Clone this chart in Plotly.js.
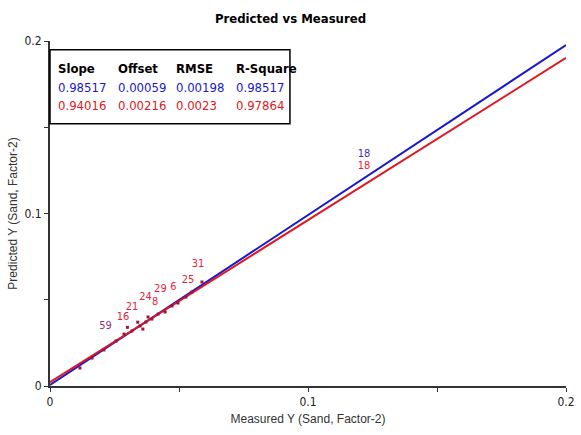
<!DOCTYPE html>
<html><head><meta charset="utf-8">
<script src="https://cdn.plot.ly/plotly-3.0.1.min.js"></script>
<style>html,body{margin:0;padding:0;background:#fff}#c{width:581px;height:435px}</style>
</head><body><div id="c"></div>
<script>
// Regression statistics (Calibration = blue, Validation = red)
const statHeaders = ["Slope", "Offset", "RMSE", "R-Square"];
const calStats = ["0.98517", "0.00059", "0.00198", "0.98517"];
const valStats = ["0.94016", "0.00216", "0.0023", "0.97864"];
const calSlope = 0.98517, calOffset = 0.00059;
const valSlope = 0.94016, valOffset = 0.00216;
const lineX = [0, 0.2];

// Sample labels (validation, red)
const valLabels = ["16","21","24","8","29","6","25","31","18"];
const valMeasured = [0.0283,0.0318,0.0370,0.0408,0.0428,0.0478,0.0535,0.0574,0.1217];
const valPredicted = [0.0398,0.0458,0.0516,0.0485,0.0562,0.0572,0.0614,0.0707,0.1272];

// Sample labels shared by both sets (purple)
const bothLabels = ["59"];
const bothMeasured = [0.0215];
const bothPredicted = [0.0345];

// Sample labels (calibration, blue)
const calLabels = ["18"];
const calMeasured = [0.1217];
const calPredicted = [0.1346];

// Sample points (markers)
const ptMeasured = [0.0116,0.0163,0.0209,0.0256,0.0287,0.0318,0.0349,0.0372,0.0395,0.0419,0.0446,0.0473,0.0496,0.0527,0.0550,0.0589,0.0300,0.0340,0.0360,0.0380];
const ptPredicted = [0.0104,0.0162,0.0209,0.0261,0.0301,0.0319,0.0348,0.0371,0.0388,0.0417,0.0429,0.0464,0.0481,0.0516,0.0545,0.0603,0.0340,0.0370,0.0330,0.0400];

const BLUE = "rgb(25,25,200)";
const RED = "rgb(220,25,35)";
const narrow = "DejaVu Sans Condensed, Liberation Sans Narrow, sans-serif";

const traces = [
  {x: lineX, y: lineX.map(v => calSlope*v + calOffset), mode: "lines", line: {color: BLUE, width: 2}, hoverinfo: "skip"},
  {x: lineX, y: lineX.map(v => valSlope*v + valOffset), mode: "lines", line: {color: RED, width: 2}, hoverinfo: "skip"},
  {x: ptMeasured, y: ptPredicted, mode: "markers", marker: {color: "rgb(160,20,60)", size: 3, symbol: "square"}},
  {x: calMeasured, y: calPredicted, mode: "text", text: calLabels, textfont: {color: "rgb(60,50,190)", size: 11, family: narrow}},
  {x: bothMeasured, y: bothPredicted, mode: "text", text: bothLabels, textfont: {color: "rgb(150,50,110)", size: 11, family: narrow}},
  {x: valMeasured, y: valPredicted, mode: "text", text: valLabels, textfont: {color: "rgb(230,30,60)", size: 11, family: narrow}}
];

const colX = [0.012, 0.128, 0.24, 0.356];
const annotations = [];
const rows = [[statHeaders, "#000", true], [calStats, BLUE, false], [valStats, RED, false]];
const rowY = [0.919, 0.864, 0.812];
rows.forEach((r, ri) => {
  r[0].forEach((t, ci) => {
    annotations.push({xref: "paper", yref: "paper", x: colX[ci], y: rowY[ri], text: r[2] ? "<b>" + t + "</b>" : t, showarrow: false,
      xanchor: "left", yanchor: "middle", font: {family: narrow, size: 13, color: r[1]}});
  });
});

const layout = {
  width: 581, height: 435,
  margin: {l: 50, r: 15, t: 41, b: 49},
  paper_bgcolor: "#fff", plot_bgcolor: "#fff",
  showlegend: false,
  title: {text: "<b>Predicted vs Measured</b>", x: 0.5, xref: "container", y: 0.958, yanchor: "middle",
    font: {family: narrow, size: 13, color: "#000"}},
  xaxis: {range: [0, 0.2], tickvals: [0, 0.05, 0.1, 0.15, 0.2], ticktext: ["0", "", "0.1", "", "0.2"],
    showgrid: false, zeroline: false, showline: true, linecolor: "#333", linewidth: 2,
    ticks: "outside", ticklen: 4, tickcolor: "#333", tickfont: {family: narrow, size: 12, color: "#222"},
    title: {text: "Measured Y (Sand, Factor-2)", standoff: 6, font: {family: "Liberation Sans, Arial, sans-serif", size: 12, color: "#333"}}},
  yaxis: {range: [0, 0.2], tickvals: [0, 0.05, 0.1, 0.15, 0.2], ticktext: ["0", "", "0.1", "", "0.2"],
    showgrid: false, zeroline: false, showline: true, linecolor: "#333", linewidth: 2,
    ticks: "outside", ticklen: 4, tickcolor: "#333", tickfont: {family: narrow, size: 12, color: "#222"},
    title: {text: "Predicted Y (Sand, Factor-2)", standoff: 4, font: {family: "Liberation Sans, Arial, sans-serif", size: 12, color: "#333"}}},
  shapes: [{type: "rect", xref: "paper", yref: "paper", x0: 0.0, x1: 0.465, y0: 0.76, y1: 0.975,
    line: {color: "#000", width: 1.5}, fillcolor: "#fff", layer: "above"}],
  annotations: annotations
};
Plotly.newPlot("c", traces, layout, {displayModeBar: false, staticPlot: true});
</script></body></html>
